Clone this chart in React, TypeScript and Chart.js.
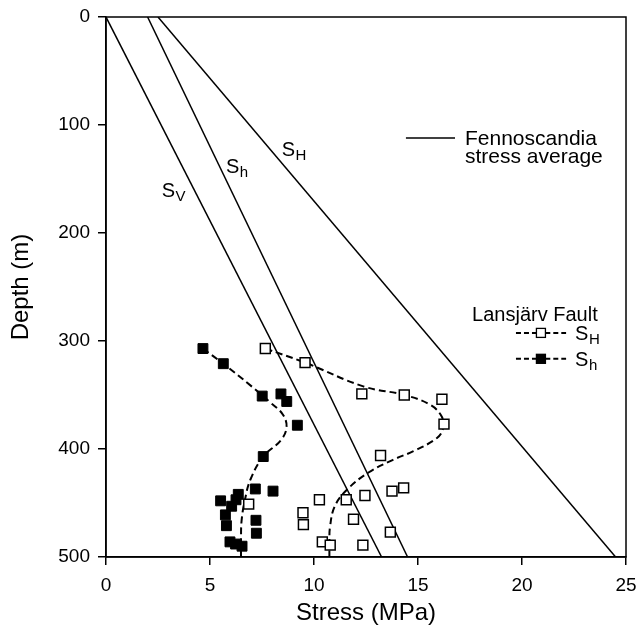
import React, { useEffect, useRef } from 'react';
import { Chart, registerables } from 'chart.js';
Chart.register(...registerables);

// Axis ranges and ticks
const stressRange = [0, 25];
const depthRange = [0, 500];
const stressStep = 5;
const depthStep = 100;

// Fennoscandia average stress lines (stress at depth 0 and depth 500)
const lineDepths = [0, 500];
const svLine = [0, 13.25];
const shLine = [2.0, 14.5];
const sHLine = [2.5, 24.5];

// Lansjärv Fault measurements: SH (open squares)
const sHStress = [7.66, 9.57, 12.3, 14.34, 16.15, 16.25, 13.2, 14.31, 13.75, 12.45, 11.55, 10.26, 6.86, 9.47, 9.49, 11.9, 13.67, 10.4, 10.78, 12.35];
const sHDepth = [307, 320, 349, 350, 354, 377, 406, 436, 439, 443, 447, 447, 451, 459, 470, 465, 477, 486, 489, 489];

// Lansjärv Fault measurements: Sh (filled squares)
const shStress = [4.66, 5.64, 7.51, 8.41, 8.69, 9.2, 7.56, 7.18, 8.03, 6.36, 6.25, 5.51, 6.04, 5.74, 7.21, 5.79, 7.23, 5.96, 6.23, 6.54];
const shDepth = [307, 321, 351, 349, 356, 378, 407, 437, 439, 442, 447, 448, 453, 461, 466, 471, 478, 486, 488, 490];

// Dashed trend curves
const shCurveStress = [4.66, 5.64, 7.0, 7.9, 8.5, 8.68, 8.4, 7.56, 6.95, 6.68, 6.52, 6.49, 6.49];
const shCurveDepth = [307, 321, 342, 357, 368, 380, 392, 407, 428, 447, 466, 484, 494];
const sHCurveStress = [7.66, 9.57, 12.37, 14.34, 15.58, 16.14, 16.2, 15.9, 14.78, 13.8, 12.6, 11.57, 11.0, 10.77, 10.74, 10.74];
const sHCurveDepth = [307, 320, 342, 350, 359, 370, 381, 390, 402, 410, 422, 438, 453, 472, 486, 494];

const FONT = '"Liberation Sans", Arial, Helvetica, sans-serif';

const pts = (xs: number[], ys: number[]) => xs.map((x, i) => ({ x, y: ys[i] }));

// Annotation anchors (data units: stress, depth)
const lineLabels = [
  { x: 2.68, y: 166.4, main: 'S', sub: 'V' },
  { x: 5.77, y: 144.4, main: 'S', sub: 'h' },
  { x: 8.45, y: 128.4, main: 'S', sub: 'H' },
];

const annotationPlugin = {
  id: 'annotations',
  afterDraw(chart: any) {
    const { ctx, chartArea, scales } = chart;
    const xs = scales.x, ys = scales.y;
    const px = (v: number) => xs.getPixelForValue(v);
    const py = (v: number) => ys.getPixelForValue(v);
    ctx.save();
    // frame
    ctx.strokeStyle = '#000';
    ctx.lineWidth = 1.5;
    ctx.strokeRect(chartArea.left, chartArea.top, chartArea.right - chartArea.left, chartArea.bottom - chartArea.top);

    const drawSub = (x: number, y: number, main: string, sub: string, mSize: number, sSize: number) => {
      ctx.fillStyle = '#000';
      ctx.textAlign = 'left';
      ctx.textBaseline = 'alphabetic';
      ctx.font = `${mSize}px ${FONT}`;
      ctx.fillText(main, x, y);
      const w = ctx.measureText(main).width;
      ctx.font = `${sSize}px ${FONT}`;
      ctx.fillText(sub, x + w + 0.5, y + 4);
    };

    lineLabels.forEach(l => drawSub(px(l.x), py(l.y), l.main, l.sub, 20, 15));

    // Fennoscandia legend
    ctx.strokeStyle = '#000';
    ctx.lineWidth = 1.5;
    ctx.setLineDash([]);
    ctx.beginPath();
    ctx.moveTo(px(14.42), py(112));
    ctx.lineTo(px(16.78), py(112));
    ctx.stroke();
    ctx.fillStyle = '#000';
    ctx.font = `21px ${FONT}`;
    ctx.textAlign = 'left';
    ctx.textBaseline = 'alphabetic';
    ctx.fillText('Fennoscandia', px(17.26), py(118.5));
    ctx.fillText('stress average', px(17.26), py(135.5));

    // Lansjärv legend
    ctx.font = `20px ${FONT}`;
    ctx.fillText('Lansjärv Fault', px(17.6), py(281.5));
    const rows = [
      { y: 292.5, fill: '#fff', sub: 'H' },
      { y: 316.5, fill: '#000', sub: 'h' },
    ];
    rows.forEach(r => {
      const yy = py(r.y);
      ctx.strokeStyle = '#000';
      ctx.lineWidth = 2;
      ctx.setLineDash([5, 3]);
      ctx.beginPath();
      ctx.moveTo(px(19.71), yy);
      ctx.lineTo(px(20.7), yy);
      ctx.moveTo(px(21.12), yy);
      ctx.lineTo(px(22.12), yy);
      ctx.stroke();
      ctx.setLineDash([]);
      const cx = px(20.91);
      ctx.fillStyle = r.fill;
      ctx.lineWidth = 1.3;
      ctx.fillRect(cx - 4.5, yy - 4.5, 9, 9);
      ctx.strokeRect(cx - 4.5, yy - 4.5, 9, 9);
      drawSub(px(22.55), yy + 7, 'S', r.sub, 20, 15);
    });
    ctx.restore();
  },
};

export default function App() {
  const ref = useRef<HTMLCanvasElement>(null);
  useEffect(() => {
    document.body.style.margin = '0';
    const lineDs = (xs: number[], extra: any = {}) => ({
      data: pts(xs, lineDepths),
      showLine: true,
      borderColor: '#000',
      borderWidth: 1.5,
      pointRadius: 0,
      order: 3,
      ...extra,
    });
    const curveDs = (xs: number[], ys: number[]) => ({
      data: pts(xs, ys),
      showLine: true,
      borderColor: '#000',
      borderWidth: 2,
      borderDash: [7, 4],
      tension: 0.4,
      pointRadius: 0,
      order: 2,
    });
    const tickDs = (xs: number[], ys: number[]) => ({
      data: pts(xs, ys),
      showLine: true,
      borderColor: '#000',
      borderWidth: 2,
      pointRadius: 0,
      order: 2,
    });
    const chart = new Chart(ref.current!, {
      type: 'scatter',
      data: {
        datasets: [
          {
            data: pts(sHStress, sHDepth),
            pointStyle: 'rect',
            pointRadius: 7,
            pointBackgroundColor: '#fff',
            pointBorderColor: '#000',
            pointBorderWidth: 1.5,
            order: 0,
          } as any,
          {
            data: pts(shStress, shDepth),
            pointStyle: 'rect',
            pointRadius: 7,
            pointBackgroundColor: '#000',
            pointBorderColor: '#000',
            pointBorderWidth: 1,
            order: 0,
          },
          curveDs(shCurveStress, shCurveDepth),
          curveDs(sHCurveStress, sHCurveDepth),
          tickDs([shCurveStress[shCurveStress.length - 1], shCurveStress[shCurveStress.length - 1]], [shCurveDepth[shCurveDepth.length - 1], depthRange[1]]),
          tickDs([sHCurveStress[sHCurveStress.length - 1], sHCurveStress[sHCurveStress.length - 1]], [sHCurveDepth[sHCurveDepth.length - 1], depthRange[1]]),
          lineDs(svLine),
          lineDs(shLine),
          lineDs(sHLine),
        ] as any,
      },
      options: {
        animation: false,
        responsive: true,
        maintainAspectRatio: false,
        layout: { padding: { top: 17, right: 14, left: 0, bottom: 0 } },
        plugins: { legend: { display: false }, tooltip: { enabled: false } },
        elements: { line: { capBezierPoints: false } },
        scales: {
          x: {
            type: 'linear',
            min: stressRange[0],
            max: stressRange[1],
            ticks: { stepSize: stressStep, color: '#000', font: { family: FONT, size: 19 }, padding: 9, maxRotation: 0 },
            grid: { display: true, drawOnChartArea: false, drawTicks: true, tickLength: 8, color: '#000', lineWidth: 1.5 },
            border: { display: true, color: '#000', width: 1.5 },
            title: { display: true, text: 'Stress (MPa)', color: '#000', font: { family: FONT, size: 24 }, padding: { top: 0, bottom: 1 } },
            afterFit: (s: any) => { s.height = 72; s.paddingLeft = 0; s.paddingRight = 0; },
          },
          y: {
            type: 'linear',
            reverse: true,
            min: depthRange[0],
            max: depthRange[1],
            ticks: { stepSize: depthStep, color: '#000', font: { family: FONT, size: 19 }, padding: 8 },
            grid: { display: true, drawOnChartArea: false, drawTicks: true, tickLength: 8, color: '#000', lineWidth: 1.5 },
            border: { display: true, color: '#000', width: 1.5 },
            title: { display: true, text: 'Depth (m)', color: '#000', font: { family: FONT, size: 24 }, padding: { top: 7, bottom: 0 } },
            afterFit: (s: any) => { s.width = 106; s.paddingTop = 0; s.paddingBottom = 0; },
          },
        },
      } as any,
      plugins: [annotationPlugin],
    });
    return () => chart.destroy();
  }, []);
  return (
    <div style={{ width: 640, height: 629, position: 'relative' }}>
      <canvas ref={ref} />
    </div>
  );
}
